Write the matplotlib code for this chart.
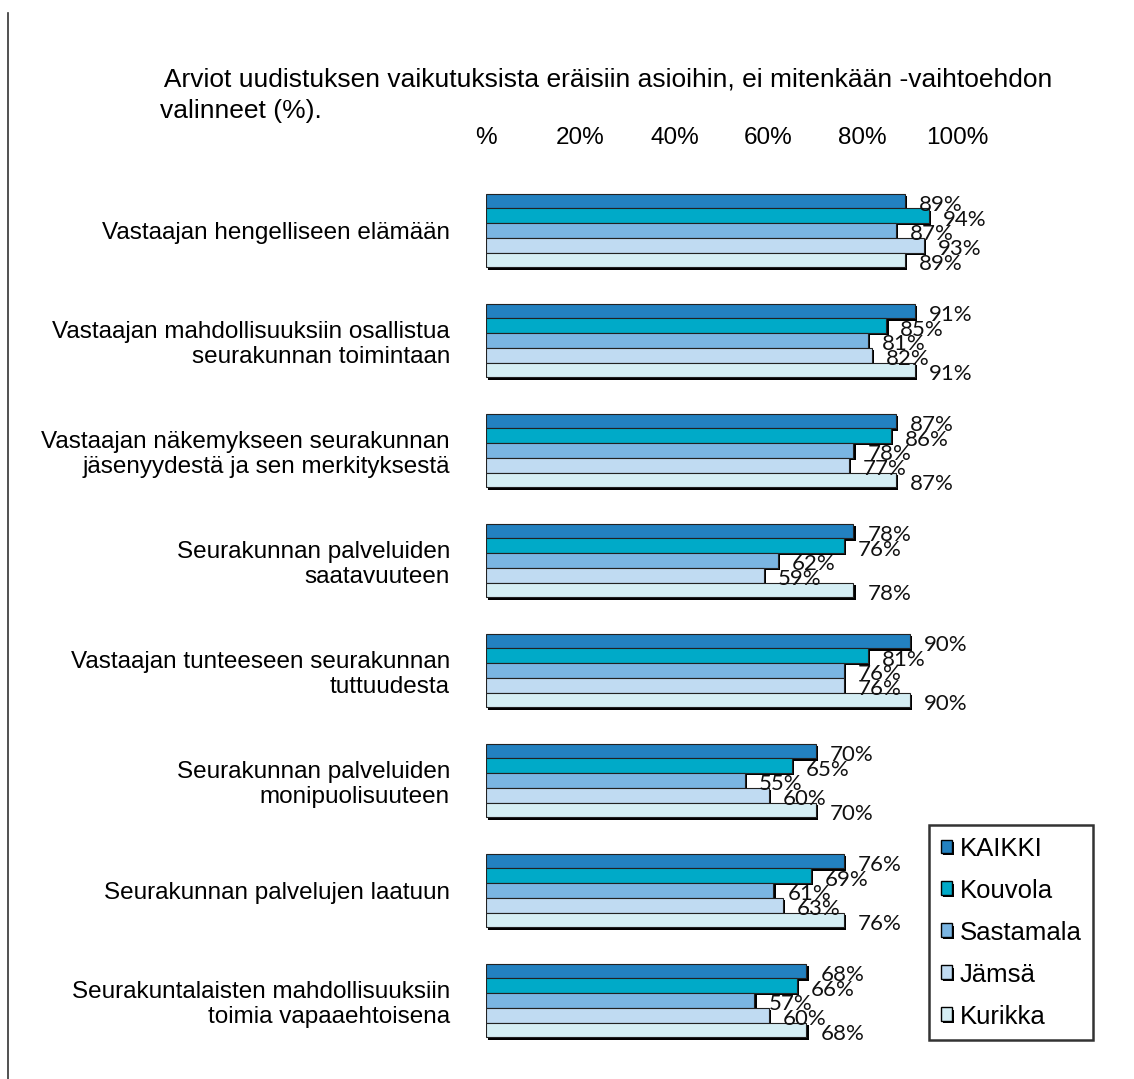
import matplotlib
matplotlib.use('Agg')
import matplotlib.pyplot as plt
import matplotlib.patheffects as pe
from matplotlib.lines import Line2D
from matplotlib.patches import Patch

# data
categories = [
    'Vastaajan hengelliseen elämään',
    'Vastaajan mahdollisuuksiin osallistua\nseurakunnan toimintaan',
    'Vastaajan näkemykseen seurakunnan\njäsenyydestä ja sen merkityksestä',
    'Seurakunnan palveluiden\nsaatavuuteen',
    'Vastaajan tunteeseen seurakunnan\ntuttuudesta',
    'Seurakunnan palveluiden\nmonipuolisuuteen',
    'Seurakunnan palvelujen laatuun',
    'Seurakuntalaisten mahdollisuuksiin\ntoimia vapaaehtoisena',
]
series_names = ['KAIKKI', 'Kouvola', 'Sastamala', 'Jämsä', 'Kurikka']
kaikki    = [89, 91, 87, 78, 90, 70, 76, 68]
kouvola   = [94, 85, 86, 76, 81, 65, 69, 66]
sastamala = [87, 81, 78, 62, 76, 55, 61, 57]
jamsa     = [93, 82, 77, 59, 76, 60, 63, 60]
kurikka   = [89, 91, 87, 78, 90, 70, 76, 68]
series = [kaikki, kouvola, sastamala, jamsa, kurikka]
colors = ['#2381c0', '#00aac8', '#7ab5e2', '#c0dbf2', '#d5eef4']
xticks = [0, 20, 40, 60, 80, 100]
xticklabels = ['%', '20%', '40%', '60%', '80%', '100%']

plt.rcParams['font.family'] = ['Liberation Sans', 'DejaVu Sans']

W, H = 1134, 1079
fig = plt.figure(figsize=(W / 100, H / 100), dpi=100)
ax = fig.add_axes([486 / W, 1 - 1055.5 / H, 471 / W, 880 / H])

bar_h = 0.134
shadow = [pe.SimplePatchShadow(offset=(1.6, -1.6), shadow_rgbFace='black', alpha=1.0), pe.Normal()]
for j, vals in enumerate(series):
    ys = [i + (j - 2) * bar_h for i in range(len(categories))]
    bars = ax.barh(ys, vals, height=bar_h, color=colors[j], edgecolor='#222222',
                   linewidth=0.8, zorder=3)
    for b in bars:
        b.set_path_effects(shadow)
    # value labels (they overlap in the original too)
    for y, v in zip(ys, vals):
        ax.annotate(f'{v}%', (v, y), xytext=(14, -4), textcoords='offset pixels',
                    ha='left', va='center', fontsize=16, family=['Lato', 'DejaVu Sans'],
                    color='#111111', zorder=5)

ax.set_xlim(0, 100)
ax.set_ylim(len(categories) - 0.5, -0.5)
ax.set_yticks(range(len(categories)))
ax.set_yticklabels(categories, fontsize=17.5)
ax.set_xticks(xticks)
ax.set_xticklabels(xticklabels, fontsize=17.5)
ax.xaxis.set_ticks_position('top')
ax.tick_params(axis='x', length=0, pad=19)
ax.tick_params(axis='y', length=0, pad=26)
for s in ax.spines.values():
    s.set_visible(False)

# title
fig.text(158 / W, 1 - 80 / H, ' Arviot uudistuksen vaikutuksista eräisiin asioihin, ei mitenkään -vaihtoehdon',
         fontsize=19, va='center', ha='left')
fig.text(160 / W, 1 - 111 / H, 'valinneet (%).', fontsize=19, va='center', ha='left')

# left border line
fig.add_artist(Line2D([8 / W, 8 / W], [0, 1 - 13 / H], color='#333333', lw=1.2))

# legend
handles = [Patch(facecolor=c, edgecolor='black', linewidth=1.0,
                 path_effects=[pe.SimplePatchShadow(offset=(1.5, -1.5), shadow_rgbFace='black', alpha=1.0), pe.Normal()])
           for c in colors]
leg = fig.legend(handles, series_names, loc='upper left', bbox_to_anchor=(929 / W, 1 - 825 / H),
                 fontsize=18.5, frameon=True, fancybox=False, edgecolor='black',
                 handlelength=0.45, handleheight=0.45, handletextpad=0.3,
                 labelspacing=0.7, borderpad=0.45, borderaxespad=0)
leg.get_frame().set_linewidth(1.8)

fig.savefig('out.png', dpi=100)
